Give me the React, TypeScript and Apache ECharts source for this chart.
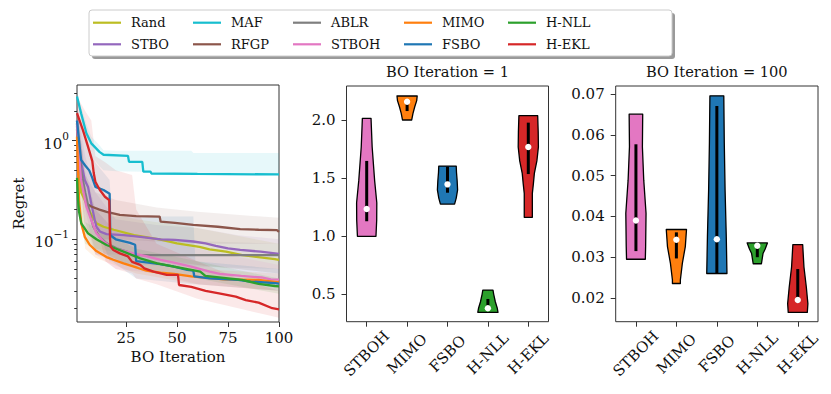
import React, { useEffect, useRef } from 'react';
import * as echarts from 'echarts';

const FONT = 'DejaVu Serif';

// ---------- left panel: regret curves [iteration, regret] ----------
const methods = ['Rand', 'STBO', 'MAF', 'RFGP', 'ABLR', 'STBOH', 'MIMO', 'FSBO', 'H-NLL', 'H-EKL'];

const randCurve = [[1, 1.5], [2, 0.6], [3, 0.3], [4.8, 0.25], [7.3, 0.19], [10.5, 0.145], [14, 0.134], [19, 0.125], [29, 0.11], [42, 0.099], [50, 0.091], [61, 0.084], [66, 0.079], [74, 0.075], [82, 0.069], [87, 0.067], [98, 0.063], [100, 0.062]];
const stboCurve = [[1, 1.6], [2, 0.8], [3, 0.6], [4.8, 0.4], [6.4, 0.34], [8, 0.23], [9.7, 0.157], [10.5, 0.134], [12.2, 0.12], [15.5, 0.113], [24, 0.11], [32, 0.106], [42, 0.1], [49, 0.0985], [58, 0.095], [64, 0.091], [69, 0.086], [75, 0.081], [81, 0.078], [91, 0.075], [98, 0.072], [100, 0.071]];
const mafCurve = [[1, 2.8], [3, 1.9], [5.6, 1.19], [8, 0.94], [12, 0.77], [14, 0.72], [26, 0.7], [26.5, 0.61], [33, 0.61], [33.5, 0.485], [37, 0.485], [37.5, 0.465], [60, 0.46], [100, 0.455]];
const rfgpCurve = [[1, 1.3], [2, 0.8], [3, 0.45], [4, 0.34], [5.6, 0.23], [8, 0.215], [12, 0.2], [15.5, 0.19], [22, 0.177], [30, 0.172], [41.5, 0.17], [42, 0.151], [49, 0.147], [58, 0.14], [70, 0.134], [81, 0.127], [90, 0.125], [99, 0.124], [100, 0.119]];
const ablrCurve = [[1, 1.4], [2, 0.8], [3, 0.5], [5, 0.3], [7.3, 0.183], [9, 0.134], [12, 0.106], [15.5, 0.091], [20.4, 0.081], [25.4, 0.075], [28.7, 0.069], [100, 0.069]];
const stbohCurve = [[1, 1.5], [2, 0.7], [3, 0.4], [5.6, 0.214], [8, 0.157], [10.5, 0.115], [14, 0.095], [17.3, 0.084], [22, 0.078], [28.7, 0.072], [35.3, 0.067], [42, 0.062], [48.5, 0.058], [57, 0.0527], [66, 0.047], [71, 0.0446], [81.5, 0.0425], [91.5, 0.041], [96, 0.0393], [100, 0.039]];
const mimoCurve = [[1, 1.1], [1.5, 0.5], [2, 0.25], [3.1, 0.145], [4.8, 0.106], [7.3, 0.0875], [10.5, 0.076], [15.5, 0.066], [18.8, 0.062], [23.8, 0.057], [30.5, 0.0515], [35, 0.048], [42, 0.0458], [48.5, 0.0445], [57, 0.042], [73, 0.0393], [90, 0.0387], [100, 0.0365]];
const fsboCurve = [[1, 1.6], [2, 1.0], [3, 0.64], [5, 0.56], [7, 0.5], [8.5, 0.42], [10, 0.34], [14, 0.316], [17, 0.29], [17.3, 0.11], [20, 0.1], [27, 0.092], [29.5, 0.088], [30, 0.06], [36, 0.058], [41.7, 0.056], [48, 0.053], [55, 0.049], [58, 0.048], [58.5, 0.042], [66, 0.0402], [80, 0.0387], [86, 0.0373], [98, 0.036], [100, 0.0355]];
const hnllCurve = [[1, 0.42], [1.5, 0.25], [2, 0.19], [3.1, 0.145], [6.4, 0.115], [10.5, 0.1], [15.5, 0.0875], [23.8, 0.075], [32, 0.064], [40.3, 0.057], [48.5, 0.0527], [57, 0.0489], [61.4, 0.047], [63.9, 0.0425], [81.8, 0.0387], [90, 0.0353], [98, 0.0336], [100, 0.0333]];
const heklCurve = [[1, 1.9], [3.9, 1.28], [6.4, 0.87], [8.5, 0.62], [9.2, 0.47], [10, 0.384], [12.2, 0.316], [14.7, 0.27], [16.8, 0.25], [17.2, 0.1], [17.5, 0.084], [18.8, 0.078], [22, 0.072], [26, 0.067], [28, 0.059], [32, 0.055], [34, 0.0508], [38.5, 0.047], [45, 0.0435], [50.5, 0.0435], [51, 0.0344], [57, 0.033], [64, 0.03], [70.6, 0.0283], [78.8, 0.0262], [83.7, 0.0242], [90, 0.0228], [96.7, 0.02], [100, 0.0195]];

// confidence bands [iteration, lower, upper]
const randBand = [[1, 0.8, 2.5], [5, 0.15, 0.4], [10, 0.08, 0.2], [30, 0.07, 0.16], [60, 0.055, 0.13], [100, 0.045, 0.09]];
const stboBand = [[1, 1.0, 2.5], [5, 0.2, 0.7], [10, 0.07, 0.3], [20, 0.07, 0.16], [40, 0.06, 0.14], [60, 0.055, 0.13], [80, 0.05, 0.11], [100, 0.045, 0.1]];
const mafBand = [[1, 2.5, 3.2], [3, 1.6, 2.2], [6, 0.9, 1.4], [8, 0.7, 1.1], [12, 0.55, 0.9], [14, 0.5, 0.8], [20, 0.49, 0.79], [40, 0.48, 0.79], [57, 0.465, 0.79], [58, 0.46, 0.75], [100, 0.45, 0.75]];
const rfgpBand = [[1, 0.8, 2.0], [5, 0.12, 0.45], [10, 0.1, 0.3], [20, 0.1, 0.25], [40, 0.095, 0.21], [60, 0.09, 0.19], [100, 0.09, 0.165]];
const ablrBand = [[1, 0.9, 2.0], [5, 0.15, 0.5], [10, 0.07, 0.2], [20, 0.06, 0.12], [30, 0.055, 0.1], [100, 0.05, 0.09]];
const stbohBand = [[1, 0.9, 2.5], [5, 0.12, 0.4], [10, 0.07, 0.2], [20, 0.05, 0.12], [40, 0.045, 0.1], [60, 0.035, 0.08], [100, 0.03, 0.055]];
const mimoBand = [[1, 0.5, 2.0], [5, 0.08, 0.14], [10, 0.065, 0.1], [30, 0.045, 0.065], [60, 0.035, 0.05], [100, 0.03, 0.045]];
const fsboBand = [[1, 1.0, 2.2], [5, 0.25, 1.0], [10, 0.15, 0.6], [17, 0.06, 0.4], [18, 0.06, 0.17], [30, 0.04, 0.17], [58, 0.035, 0.17], [59, 0.035, 0.06], [100, 0.03, 0.05]];
const hnllBand = [[1, 0.2, 0.8], [5, 0.09, 0.15], [10, 0.08, 0.13], [30, 0.05, 0.08], [60, 0.04, 0.06], [100, 0.028, 0.04]];
const heklBand = [[1, 1.2, 2.8], [5, 0.4, 2.0], [8, 0.25, 1.6], [10, 0.15, 0.7], [15, 0.06, 0.6], [20, 0.05, 0.5], [28, 0.045, 0.45], [30, 0.04, 0.2], [40, 0.035, 0.09], [60, 0.025, 0.06], [80, 0.02, 0.04], [100, 0.016, 0.03]];

const curves = [randCurve, stboCurve, mafCurve, rfgpCurve, ablrCurve, stbohCurve, mimoCurve, fsboCurve, hnllCurve, heklCurve];
const bands = [randBand, stboBand, mafBand, rfgpBand, ablrBand, stbohBand, mimoBand, fsboBand, hnllBand, heklBand];

const xTicks = [25, 50, 75, 100];
const yMajorTicks = [0.1, 1];
const yMinorTicks = [0.02, 0.03, 0.04, 0.05, 0.06, 0.07, 0.08, 0.09, 0.2, 0.3, 0.4, 0.5, 0.6, 0.7, 0.8, 0.9, 2, 3];

// ---------- violin panels ----------
const violinCats = ['STBOH', 'MIMO', 'FSBO', 'H-NLL', 'H-EKL'];
// profile: [value, relative density]
const iter1Profiles = [
  [[1.0, 9.0], [1.14, 9.7], [1.29, 9.8], [1.48, 7.7], [1.77, 5.3], [2.017, 4.2]],
  [[2.003, 4.7], [2.06, 6.0], [2.117, 7.8], [2.17, 9.8], [2.21, 10.3]],
  [[1.278, 7.7], [1.33, 9.5], [1.4, 11], [1.48, 10.5], [1.55, 9.8], [1.606, 9.5]],
  [[0.345, 11.3], [0.38, 10.5], [0.436, 8.3], [0.5, 6.5], [0.537, 5.7]],
  [[1.164, 4], [1.37, 4], [1.45, 5], [1.543, 6], [1.65, 8.5], [1.77, 10], [1.9, 9.8], [2.04, 9.3]],
];
const iter1Quartiles = [[1.13, 1.65], [2.08, 2.165], [1.376, 1.6], [0.375, 0.46], [1.537, 1.98]];
const iter1Medians = [1.235, 2.16, 1.448, 0.38, 1.77];

const iter100Profiles = [
  [[0.0295, 9], [0.0326, 9.3], [0.0408, 9.7], [0.0489, 7.5], [0.0571, 6.2], [0.0651, 6.5]],
  [[0.02355, 4], [0.0244, 4], [0.0285, 6], [0.0326, 9], [0.0368, 10.2]],
  [[0.026, 10.2], [0.035, 9.5], [0.0465, 8.3], [0.058, 7.5], [0.0696, 7]],
  [[0.0284, 4.2], [0.0309, 5.8], [0.032, 8], [0.0335, 10.3]],
  [[0.01645, 9.7], [0.0186, 10.3], [0.0227, 8.7], [0.0276, 6.3], [0.0331, 5]],
];
const iter100Quartiles = [[0.0315, 0.0577], [0.0297, 0.0361], [0.026, 0.0671], [0.03, 0.033], [0.0188, 0.0271]];
const iter100Medians = [0.039, 0.0343, 0.0344, 0.0328, 0.0195];

const iter1Ticks = [0.5, 1.0, 1.5, 2.0];
const iter100Ticks = [0.02, 0.03, 0.04, 0.05, 0.06, 0.07];

// ---------- styles ----------
const methodColors: Record<string, string> = {
  Rand: '#bcbd22', STBO: '#9467bd', MAF: '#17becf', RFGP: '#8c564b', ABLR: '#7f7f7f',
  STBOH: '#e377c2', MIMO: '#ff7f0e', FSBO: '#1f77b4', 'H-NLL': '#2ca02c', 'H-EKL': '#d62728',
};
const legendCols = [['Rand', 'STBO'], ['MAF', 'RFGP'], ['ABLR', 'STBOH'], ['MIMO', 'FSBO'], ['H-NLL', 'H-EKL']];
const legendLefts = [93, 193, 293, 404, 508];
const AX = '#333';
const TXT = '#111';

function makeViolinRender(profiles: number[][][], quarts: number[][], medians: number[]) {
  return (params: any, api: any) => {
    const i = params.dataIndex;
    const prof = profiles[i];
    const center = api.coord([i, medians[i]]);
    const cx = center[0];
    const bw = api.size([1, 0])[0];
    const half = bw * 0.25;
    const maxD = Math.max(...prof.map((p) => p[1]));
    const left = prof.map(([y, d]) => [cx - (d / maxD) * half, api.coord([i, y])[1]]);
    const right = prof.map(([y, d]) => [cx + (d / maxD) * half, api.coord([i, y])[1]]).reverse();
    const q1 = api.coord([i, quarts[i][0]])[1];
    const q3 = api.coord([i, quarts[i][1]])[1];
    return {
      type: 'group',
      children: [
        { type: 'polygon', shape: { points: left.concat(right) }, style: { fill: methodColors[violinCats[i]], stroke: '#000', lineWidth: 1.3, lineJoin: 'round' } },
        { type: 'line', shape: { x1: cx, y1: q1, x2: cx, y2: q3 }, style: { stroke: '#000', lineWidth: 3 } },
        { type: 'circle', shape: { cx, cy: center[1], r: 3.2 }, style: { fill: '#fff' } },
      ],
    };
  };
}

export default function App() {
  const ref = useRef<HTMLDivElement>(null);
  useEffect(() => {
    if (!ref.current) return;
    const chart = echarts.init(ref.current, null, { renderer: 'svg' });
    const lg = Math.log10;

    const tickLabel = { fontFamily: FONT, fontSize: 15, color: TXT };

    const lineSeries = methods.map((m, k) => ({
      type: 'line',
      name: m,
      xAxisIndex: 0,
      yAxisIndex: 0,
      data: curves[k].map(([x, v]) => [x, lg(v)]),
      showSymbol: false,
      symbol: 'none',
      color: methodColors[m],
      lineStyle: { width: 2.3, color: methodColors[m] },
      z: 3,
    }));

    const bandSeries = {
      type: 'custom',
      xAxisIndex: 0,
      yAxisIndex: 0,
      silent: true,
      z: 2,
      data: bands.map(() => [1, 0]),
      renderItem: (params: any, api: any) => {
        const b = bands[params.dataIndex];
        const upper = b.map(([x, , hi]) => api.coord([x, lg(hi)]));
        const lower = b.map(([x, lo]) => api.coord([x, lg(lo)])).reverse();
        return {
          type: 'polygon',
          shape: { points: upper.concat(lower) },
          style: { fill: methodColors[methods[params.dataIndex]], opacity: 0.1 },
        };
      },
    };

    const option: any = {
      animation: false,
      backgroundColor: '#fff',
      textStyle: { fontFamily: FONT },
      graphic: [
        { type: 'rect', z: 0, shape: { x: 92, y: 13, width: 583, height: 46, r: 3 }, style: { fill: '#9a9a9a' } },
        { type: 'rect', z: 1, shape: { x: 89, y: 10, width: 583, height: 46, r: 3 }, style: { fill: '#fff', stroke: '#cccccc', lineWidth: 1 } },
      ],
      legend: legendCols.map((d, k) => ({
        data: d,
        orient: 'vertical',
        left: legendLefts[k],
        top: 15.7,
        padding: 0,
        itemWidth: 28,
        itemHeight: 2.2,
        itemGap: 7.6,
        icon: 'rect',
        selectedMode: false,
        z: 10,
        textStyle: { fontFamily: FONT, fontSize: 13, color: TXT, lineHeight: 14, padding: [0, 0, 0, 5] },
      })),
      title: [
        { text: 'BO Iteration = 1', left: 447.5, top: 64, textAlign: 'center', padding: 0, textStyle: { fontFamily: FONT, fontSize: 14.6, fontWeight: 'normal', color: TXT } },
        { text: 'BO Iteration = 100', left: 716.8, top: 64, textAlign: 'center', padding: 0, textStyle: { fontFamily: FONT, fontSize: 14.6, fontWeight: 'normal', color: TXT } },
      ],
      grid: [
        { left: 77, top: 85, width: 202, height: 237, show: true, borderColor: AX, borderWidth: 1, backgroundColor: 'transparent' },
        { left: 346.5, top: 86, width: 202, height: 235.7, show: true, borderColor: AX, borderWidth: 1, backgroundColor: 'transparent' },
        { left: 615.7, top: 86, width: 202.3, height: 235.7, show: true, borderColor: AX, borderWidth: 1, backgroundColor: 'transparent' },
      ],
      xAxis: [
        {
          type: 'value', gridIndex: 0, min: 1, max: 100,
          name: 'BO Iteration', nameLocation: 'middle', nameGap: 27,
          nameTextStyle: { fontFamily: FONT, fontSize: 15, color: TXT },
          axisLine: { show: false, onZero: false },
          splitLine: { show: false },
          axisTick: { show: true, length: 5, customValues: xTicks, lineStyle: { color: AX } },
          axisLabel: { ...tickLabel, margin: 8, customValues: xTicks },
        },
        {
          type: 'category', gridIndex: 1, data: violinCats, boundaryGap: true,
          axisLine: { show: false, onZero: false },
          splitLine: { show: false },
          axisTick: { show: true, length: 5, alignWithLabel: true, lineStyle: { color: AX } },
          axisLabel: { ...tickLabel, rotate: 45, align: 'center', verticalAlign: 'middle', margin: 32, interval: 0 },
        },
        {
          type: 'category', gridIndex: 2, data: violinCats, boundaryGap: true,
          axisLine: { show: false, onZero: false },
          splitLine: { show: false },
          axisTick: { show: true, length: 5, alignWithLabel: true, lineStyle: { color: AX } },
          axisLabel: { ...tickLabel, rotate: 45, align: 'center', verticalAlign: 'middle', margin: 32, interval: 0 },
        },
      ],
      yAxis: [
        {
          type: 'value', gridIndex: 0, position: 'left', min: lg(0.0145), max: lg(3.67),
          name: 'Regret', nameLocation: 'middle', nameGap: 51, nameRotate: 90,
          nameTextStyle: { fontFamily: FONT, fontSize: 15, color: TXT },
          axisLine: { show: false, onZero: false },
          splitLine: { show: false },
          axisTick: { show: true, length: 5, customValues: yMajorTicks.map(lg), lineStyle: { color: AX } },
          axisLabel: {
            margin: 8,
            customValues: yMajorTicks.map(lg),
            formatter: (v: number) => (Math.round(v) === 0 ? '{b|10}{s|0}' : '{b|10}{s|−1}'),
            rich: {
              b: { fontFamily: FONT, fontSize: 15, color: TXT, lineHeight: 21, verticalAlign: 'bottom' },
              s: { fontFamily: FONT, fontSize: 10.5, color: TXT, lineHeight: 21, verticalAlign: 'top' },
            },
          },
        },
        {
          type: 'value', gridIndex: 0, position: 'left', min: lg(0.0145), max: lg(3.67),
          axisLine: { show: false, onZero: false },
          splitLine: { show: false },
          axisLabel: { show: false },
          axisTick: { show: true, length: 2.8, customValues: yMinorTicks.map(lg), lineStyle: { color: AX } },
        },
        {
          type: 'value', gridIndex: 1, min: 0.264, max: 2.296,
          axisLine: { show: false, onZero: false },
          splitLine: { show: false },
          axisTick: { show: true, length: 5, customValues: iter1Ticks, lineStyle: { color: AX } },
          axisLabel: { ...tickLabel, margin: 11, customValues: iter1Ticks, formatter: (v: number) => v.toFixed(1) },
        },
        {
          type: 'value', gridIndex: 2, min: 0.01418, max: 0.072,
          axisLine: { show: false, onZero: false },
          splitLine: { show: false },
          axisTick: { show: true, length: 5, customValues: iter100Ticks, lineStyle: { color: AX } },
          axisLabel: { ...tickLabel, margin: 11, customValues: iter100Ticks, formatter: (v: number) => v.toFixed(2) },
        },
      ],
      series: [
        bandSeries,
        ...lineSeries,
        {
          type: 'custom', xAxisIndex: 1, yAxisIndex: 2, silent: true,
          data: iter1Medians.map((m, i) => [i, m]),
          encode: { x: 0, y: 1 },
          renderItem: makeViolinRender(iter1Profiles, iter1Quartiles, iter1Medians),
        },
        {
          type: 'custom', xAxisIndex: 2, yAxisIndex: 3, silent: true,
          data: iter100Medians.map((m, i) => [i, m]),
          encode: { x: 0, y: 1 },
          renderItem: makeViolinRender(iter100Profiles, iter100Quartiles, iter100Medians),
        },
      ],
    };
    chart.setOption(option);
    return () => chart.dispose();
  }, []);
  return <div ref={ref} style={{ position: 'absolute', left: 0, top: 0, width: 831, height: 394 }} />;
}
